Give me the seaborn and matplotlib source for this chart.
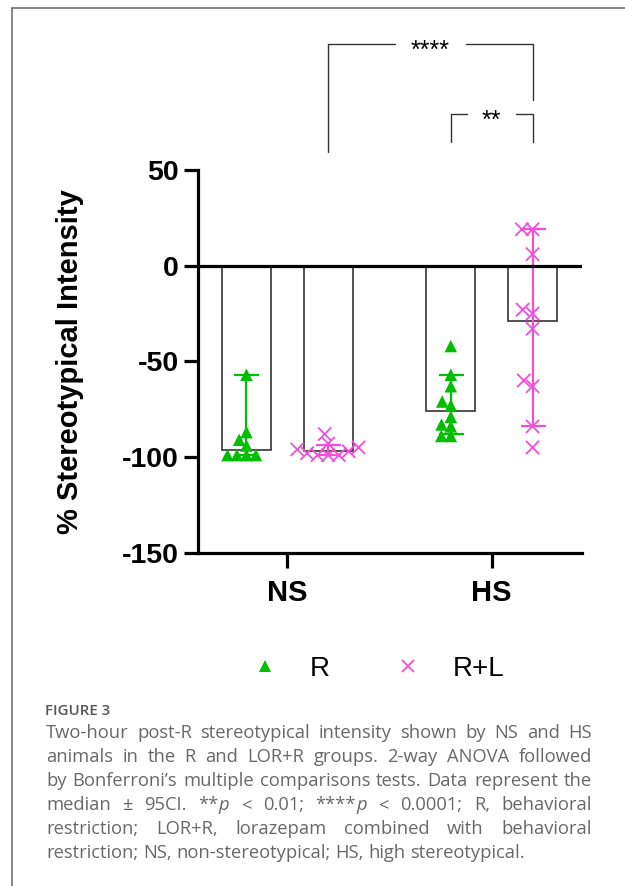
import numpy as np
import pandas as pd
import matplotlib
matplotlib.use("Agg")
import matplotlib.pyplot as plt
from matplotlib.lines import Line2D
import seaborn as sns

# ---------------- data ----------------
groups = ["NS", "HS"]
treatments = ["R", "R+L"]
ns_r = [-57, -87, -91, -94, -99, -99, -99, -99]
ns_rl = [-88, -93, -95, -96, -97, -98, -99, -99, -99]
hs_r = [-42, -57, -63, -71, -73, -79, -83, -84, -89, -89]
hs_rl = [19, 19, 6, -23, -25, -33, -60, -63, -84, -95]
ci_low = {("NS", "R"): -99, ("NS", "R+L"): -99, ("HS", "R"): -88, ("HS", "R+L"): -84}
ci_high = {("NS", "R"): -57, ("NS", "R+L"): -93.5, ("HS", "R"): -57, ("HS", "R+L"): 19}
y_ticks = [50, 0, -50, -100, -150]
y_label = "% Stereotypical Intensity"
legend_labels = ["R", "R+L"]
sig_labels = ["****", "**"]
caption_title = "FIGURE 3"
caption_lines = [
    "Two-hour post-R stereotypical intensity shown by NS and HS",
    "animals in the R and LOR+R groups. 2-way ANOVA followed",
    "by Bonferroni\u2019s multiple comparisons tests. Data represent the",
    "median \u00b1 95CI. **p < 0.01; ****p < 0.0001; R, behavioral",
    "restriction; LOR+R, lorazepam combined with behavioral",
    "restriction; NS, non-stereotypical; HS, high stereotypical.",
]

colors = {"R": "#00BE00", "R+L": "#F24FD9"}
markers = {"R": "^", "R+L": "x"}
layout_size = {"R": 6.5, "R+L": 6.0}
draw_size = {"R": 9.0, "R+L": 9.5}

rows = []
for g, t, vals in [("NS", "R", ns_r), ("NS", "R+L", ns_rl), ("HS", "R", hs_r), ("HS", "R+L", hs_rl)]:
    for v in vals:
        rows.append({"group": g, "treatment": t, "value": v})
df = pd.DataFrame(rows)

# ---------------- figure ----------------
sns.set_theme(style="ticks")
plt.rcParams["font.family"] = ["Liberation Sans", "DejaVu Sans"]
plt.rcParams["axes.unicode_minus"] = False

W, H = 625, 886
fig = plt.figure(figsize=(W / 100, H / 100), dpi=100)
ax = fig.add_axes([198 / W, 1 - 552.7 / H, (582 - 198) / W, (552.7 - 170) / H])

sns.barplot(data=df, x="group", y="value", hue="treatment", order=groups, hue_order=treatments,
            estimator="median", errorbar=None, fill=False, width=0.8, gap=0.4,
            palette={"R": "#333333", "R+L": "#333333"}, linewidth=1.2, legend=False, ax=ax, zorder=1)

swarm_cols = {}
for t in treatments:
    sub = df[df["treatment"] == t]
    n_before = len(ax.collections)
    sns.swarmplot(data=sub, x="group", y="value", hue="treatment", order=groups, hue_order=treatments,
                  dodge=True, palette=colors, legend=False, ax=ax, zorder=4,
                  marker=markers[t], size=layout_size[t], linewidth=(1.3 if t == "R+L" else 0))
    swarm_cols[t] = ax.collections[n_before:]

# bar centres from the drawn patches
centers = {}
for p in ax.patches:
    xc = p.get_x() + p.get_width() / 2
    gi = int(round(xc))
    t = treatments[0] if xc < gi else treatments[1]
    g = groups[gi]
    med = p.get_y() + p.get_height()
    centers[(g, t)] = (xc, med)

for (g, t), (xc, med) in centers.items():
    lo, hi = ci_low[(g, t)], ci_high[(g, t)]
    ax.errorbar([xc], [med], yerr=[[med - lo], [hi - med]], color=colors[t], capsize=9,
                elinewidth=1.6, capthick=1.6, zorder=3, fmt="none")

ax.axhline(0, color="black", lw=2.3, zorder=5)

ax.set_ylim(-150, 50)
ax.set_xlim(-0.437, 1.442)
ax.set_yticks(y_ticks)
ax.set_yticklabels([str(v) for v in y_ticks])
ax.set_xlabel("")
ax.set_ylabel(y_label, fontsize=21, fontweight="bold", color="black", va="center")
ax.yaxis.set_label_coords(-(198 - 70) / 384, 0.5)
for s in ["top", "right"]:
    ax.spines[s].set_visible(False)
for s in ["left", "bottom"]:
    ax.spines[s].set_linewidth(2.3)
    ax.spines[s].set_color("black")
ax.tick_params(axis="y", direction="out", length=10, width=2.3, color="black", labelsize=20.5, pad=4,
               labelcolor="black")
ax.tick_params(axis="x", direction="out", length=11, width=2.3, color="black", labelsize=21, pad=8,
               labelcolor="black")
for lbl in ax.get_xticklabels() + ax.get_yticklabels():
    lbl.set_fontweight("bold")
ax.set_facecolor("none")

# significance brackets
bk = "#333333"
xl = centers[("NS", "R+L")][0]
xr = centers[("HS", "R+L")][0]
xm = (xl + xr) / 2
top4, l4, r4 = 116, 59.4, 86.8
gap4 = 0.173
ax.plot([xl, xl, xm - gap4], [l4, top4, top4], color=bk, lw=1.0, clip_on=False)
ax.plot([xm + gap4, xr, xr], [top4, top4, r4], color=bk, lw=1.0, clip_on=False)
ax.text(xm, top4 - 3.5, sig_labels[0], ha="center", va="center", fontsize=18, color="black", clip_on=False)

xl2 = centers[("HS", "R")][0]
xm2 = (xl2 + xr) / 2
top2, bot2 = 79.1, 64.5
gap2 = 0.12
ax.plot([xl2, xl2, xm2 - gap2], [bot2, top2, top2], color=bk, lw=1.0, clip_on=False)
ax.plot([xm2 + gap2, xr, xr], [top2, top2, bot2], color=bk, lw=1.0, clip_on=False)
ax.text(xm2, top2 - 3.5, sig_labels[1], ha="center", va="center", fontsize=18, color="black", clip_on=False)

# legend
handles = [Line2D([], [], ls="none", marker=markers[t], color=colors[t], markersize=8.5,
                  markeredgewidth=0 if t == "R" else 1.3) for t in treatments]
fig.legend(handles, legend_labels, loc="center", bbox_to_anchor=(378 / W, 1 - 669 / H), ncol=2,
           frameon=False, fontsize=20, handlelength=1.0, handletextpad=1.12, columnspacing=2.3,
           labelcolor="black")

# page frame
fig.add_artist(Line2D([12 / W, 12 / W], [0, 1 - 8 / H], transform=fig.transFigure, color="#666666", lw=1.1))
fig.add_artist(Line2D([12 / W, 1], [1 - 8 / H, 1 - 8 / H], transform=fig.transFigure, color="#666666", lw=1.1))

# caption
cap_font = ["Open Sans", "DejaVu Sans"]
cap_col = "#686868"
cap_fs = 13.2
fig.text(45 / W, 1 - 715 / H, caption_title, fontsize=10.8, fontweight="semibold", color="#555555",
         family=cap_font, va="baseline", ha="left")

# first draw: lays out the swarms with compact spacing
fig.canvas.draw()
renderer = fig.canvas.get_renderer()

# keep the computed swarm layout, render markers at full size
for t in treatments:
    for col in swarm_cols[t]:
        if "draw" in col.__dict__:
            del col.__dict__["draw"]
        col.set_sizes([draw_size[t] ** 2])


def measure(s, style="normal"):
    t = fig.text(0, 0, s, fontsize=cap_fs, family=cap_font, style=style)
    w = t.get_window_extent(renderer).width
    t.remove()
    return w


def segments(word):
    if word.startswith("*") and word.endswith("p"):
        return [(word[:-1], "normal"), ("p", "italic")]
    return [(word, "normal")]


space_w = measure("a a") - measure("aa")
left_px, right_px = 46, 592
base0, step = 738, 24
for i, line in enumerate(caption_lines):
    words = line.split(" ")
    segs = [segments(w) for w in words]
    widths = [sum(measure(s, st) for s, st in sg) for sg in segs]
    if i < len(caption_lines) - 1:
        gap = (right_px - left_px - sum(widths)) / (len(words) - 1)
    else:
        gap = space_w
    x = left_px
    yb = 1 - (base0 + i * step) / H
    for sg, w in zip(segs, widths):
        xx = x
        for s, st in sg:
            fig.text(xx / W, yb, s, fontsize=cap_fs, family=cap_font, style=st, color=cap_col,
                     va="baseline", ha="left")
            xx += measure(s, st)
        x += w + gap

fig.savefig("out.png", dpi=100, facecolor="white")
